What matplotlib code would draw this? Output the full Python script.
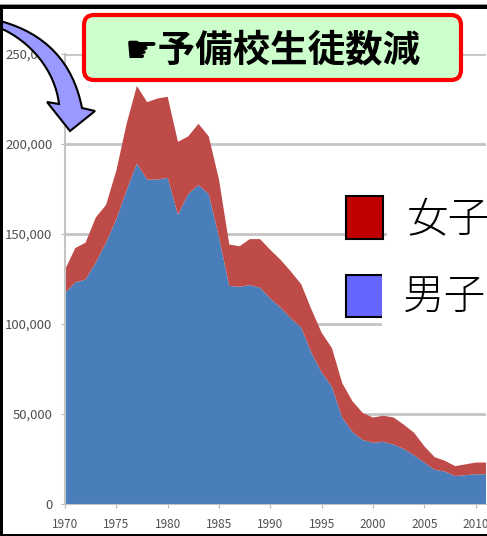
import matplotlib
matplotlib.use('Agg')
import matplotlib.pyplot as plt
from matplotlib.patches import FancyBboxPatch, Rectangle, PathPatch
from matplotlib.path import Path

plt.rcParams['font.family'] = ['Noto Sans CJK JP', 'DejaVu Sans']

W, H = 487, 536

years = list(range(1970, 2012))
male = [117, 123, 124.5, 134, 145, 158, 174, 189, 180, 180,
        181, 160.5, 172, 177, 172, 148, 121, 120.5, 121.5, 120,
        114, 109, 103, 98, 84, 73, 65, 48, 40, 35.5,
        34, 34.5, 33, 30.5, 27, 23, 19, 18, 15.5, 16,
        16.5, 16.5]
female = [13, 19, 20.5, 25, 21, 27, 37, 43, 43, 45,
          45, 40.5, 32, 34, 32, 32, 23, 22.5, 25.5, 27,
          27, 26.5, 26, 24, 24, 22, 21.5, 19, 17, 15,
          14, 14.5, 15, 13.5, 12.5, 9, 7, 6, 5.5, 6,
          6.5, 6.5]
male = [v * 1000 for v in male]
female = [v * 1000 for v in female]
yticks = [0, 50000, 100000, 150000, 200000, 250000]
xticks = [1970, 1975, 1980, 1985, 1990, 1995, 2000, 2005, 2010]
title = '☛予備校生徒数減'
legend_labels = ['女子', '男子']

fig = plt.figure(figsize=(W / 100, H / 100), dpi=100)

# chart axes, placed in pixels
ax = fig.add_axes([65 / W, (H - 504) / H, (486 - 65) / W, (504 - 53.5) / H])
ax.stackplot(years, male, female, colors=['#4a7ebb', '#be4b48'], zorder=2)
ax.set_xlim(1970, 2011)
ax.set_ylim(0, 250000)
ax.set_xticks(xticks)
ax.set_yticks(yticks)
ax.set_yticklabels([f'{v:,}' for v in yticks])
ax.grid(axis='y', color='#c4c4c4', lw=2, zorder=1)
ax.tick_params(axis='x', labelsize=8.5, labelcolor='#505050', length=3, color='#b8b8b8', pad=7)
ax.tick_params(axis='y', labelsize=9.5, labelcolor='#505050', length=3, color='#b8b8b8', pad=6)
for s in ['top', 'right']:
    ax.spines[s].set_visible(False)
ax.spines['left'].set_color('#c4c4c4')
ax.spines['left'].set_linewidth(1.5)
ax.spines['bottom'].set_color('#c4c4c4')

# overlay in pixel coordinates
ov = fig.add_axes([0, 0, 1, 1], facecolor='none')
ov.set_xlim(0, W)
ov.set_ylim(H, 0)
ov.axis('off')

# frame
ov.add_patch(Rectangle((0, 4), W, 1, fc='#999999', ec='none', zorder=8))
ov.add_patch(Rectangle((0, 5), W, 3.5, fc='black', ec='none', zorder=8))
ov.add_patch(Rectangle((0, 5), 3, H - 5, fc='black', ec='none', zorder=8))
ov.add_patch(Rectangle((0, 533.5), W, 2.5, fc='black', ec='none', zorder=8))

# arrow
arrow_pts = [(0, 21), (45, 33), (73, 62), (82, 108), (95, 111), (70, 131), (47, 102), (59, 104),
             (55, 70), (30, 41), (0, 28), (0, 21)]
arrow_codes = [Path.MOVETO, Path.CURVE4, Path.CURVE4, Path.CURVE4, Path.LINETO, Path.LINETO, Path.LINETO,
               Path.LINETO, Path.CURVE4, Path.CURVE4, Path.CURVE4, Path.CLOSEPOLY]
ov.add_patch(PathPatch(Path(arrow_pts, arrow_codes), fc='#9999ff', ec='black', lw=1.5, zorder=5))

# title box
ov.add_patch(FancyBboxPatch((84, 15), 377, 65, boxstyle='round,pad=0,rounding_size=10',
                            fc='#ccffcc', ec='#ff0000', lw=3, zorder=6))
ov.text(273, 51, title, ha='center', va='center', fontsize=27, fontweight='bold', color='black', zorder=7)

# legend, sits on a white patch that hides the gridlines
ov.add_patch(Rectangle((387, 190), 100, 55, fc='white', ec='none', zorder=4))
ov.add_patch(Rectangle((346, 196), 37, 43, fc='#c00000', ec='black', lw=1.5, zorder=6))
ov.add_patch(Rectangle((346, 275), 37, 42, fc='#6666ff', ec='black', lw=1.5, zorder=6))
ov.add_patch(Rectangle((382, 245), 105, 90, fc='white', ec='none', zorder=6.5))
ov.text(407, 220, legend_labels[0], ha='left', va='center', fontsize=30, fontweight='light', color='black', zorder=7)
ov.text(403, 298, legend_labels[1], ha='left', va='center', fontsize=30, fontweight='light', color='black', zorder=7)

fig.savefig('out.png', dpi=100)
